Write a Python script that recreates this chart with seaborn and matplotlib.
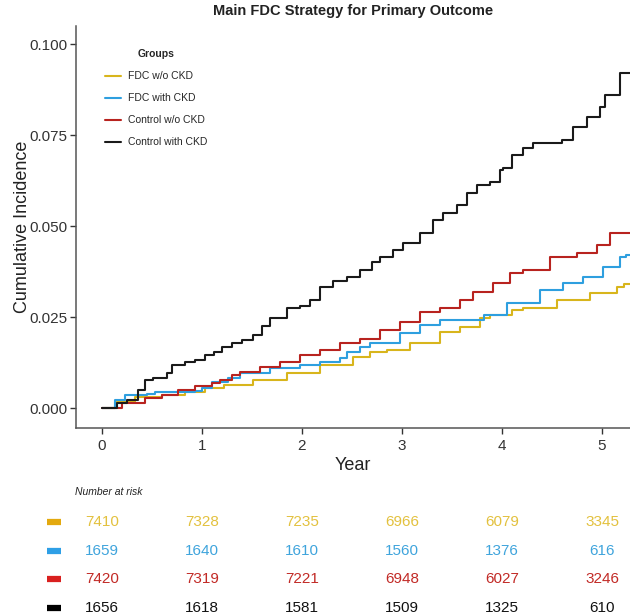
import numpy as np
import pandas as pd
import matplotlib
matplotlib.use('Agg')
import matplotlib.pyplot as plt
import seaborn as sns

# cumulative incidence step curves
groups = ['FDC w/o CKD', 'FDC with CKD', 'Control w/o CKD', 'Control with CKD']
colors = ['#D8B51C', '#2E9FDF', '#B8231F', '#1A1A1A']
table_colors = ['#E3C13E', '#3FA4DC', '#C22A26', '#111111']
marker_colors = ['#E3A90F', '#2E9FE6', '#D9201F', '#000000']

fdc_wo_t = [0, 0.13, 0.33, 0.60, 0.83, 1.03, 1.22, 1.51, 1.85, 2.18, 2.51, 2.68, 2.85, 3.08,
            3.38, 3.58, 3.78, 3.88, 4.10, 4.21, 4.55, 4.88, 5.15, 5.22, 5.28]
fdc_wo_y = [0, 0.0016, 0.0030, 0.0036, 0.0044, 0.0055, 0.0063, 0.0077, 0.0096, 0.0118, 0.0140,
            0.0154, 0.0160, 0.0180, 0.0209, 0.0223, 0.0247, 0.0255, 0.0270, 0.0275, 0.0297,
            0.0316, 0.0332, 0.0340, 0.0340]

fdc_ckd_t = [0, 0.13, 0.23, 0.45, 0.53, 0.93, 1.00, 1.10, 1.26, 1.38, 1.68, 1.98, 2.18, 2.38,
             2.45, 2.58, 2.68, 2.98, 3.18, 3.38, 3.82, 4.05, 4.38, 4.61, 4.81, 5.01, 5.18,
             5.24, 5.28]
fdc_ckd_y = [0, 0.0022, 0.0036, 0.0040, 0.0044, 0.0048, 0.0055, 0.0071, 0.0082, 0.0096, 0.0110,
             0.0118, 0.0126, 0.0137, 0.0154, 0.0168, 0.0180, 0.0206, 0.0228, 0.0242, 0.0255,
             0.0288, 0.0324, 0.0343, 0.0360, 0.0387, 0.0415, 0.0420, 0.0420]

ctl_wo_t = [0, 0.20, 0.43, 0.60, 0.76, 0.93, 1.10, 1.18, 1.30, 1.38, 1.58, 1.78, 1.98, 2.18,
            2.38, 2.58, 2.78, 2.98, 3.18, 3.38, 3.58, 3.71, 3.91, 4.08, 4.21, 4.48, 4.75,
            4.95, 5.08, 5.28]
ctl_wo_y = [0, 0.0014, 0.0027, 0.0036, 0.0050, 0.0060, 0.0069, 0.0077, 0.0090, 0.0099, 0.0113,
            0.0126, 0.0146, 0.0160, 0.0178, 0.0190, 0.0214, 0.0236, 0.0264, 0.0275, 0.0297,
            0.0319, 0.0343, 0.0370, 0.0379, 0.0415, 0.0426, 0.0448, 0.0480, 0.0480]

ctl_ckd_t = [0, 0.15, 0.25, 0.36, 0.43, 0.51, 0.65, 0.70, 0.83, 0.93, 1.03, 1.12, 1.20, 1.30,
             1.40, 1.51, 1.60, 1.68, 1.85, 1.98, 2.08, 2.18, 2.31, 2.45, 2.58, 2.70, 2.78,
             2.91, 3.01, 3.18, 3.31, 3.41, 3.55, 3.65, 3.75, 3.88, 3.98, 4.01, 4.10, 4.21,
             4.31, 4.60, 4.71, 4.85, 4.98, 5.03, 5.18, 5.28]
ctl_ckd_y = [0, 0.0014, 0.0022, 0.0050, 0.0077, 0.0082, 0.0096, 0.0118, 0.0126, 0.0132, 0.0146,
             0.0155, 0.0168, 0.0180, 0.0188, 0.0200, 0.0225, 0.0247, 0.0275, 0.0280, 0.0297,
             0.0333, 0.0350, 0.0360, 0.0380, 0.0400, 0.0415, 0.0434, 0.0453, 0.0480, 0.0516,
             0.0536, 0.0558, 0.0590, 0.0613, 0.0620, 0.0654, 0.0660, 0.0695, 0.0714, 0.0728,
             0.0736, 0.0772, 0.0800, 0.0827, 0.0860, 0.0920, 0.0920]

# number at risk table
risk_years = [0, 1, 2, 3, 4, 5]
risk_fdc_wo = [7410, 7328, 7235, 6966, 6079, 3345]
risk_fdc_ckd = [1659, 1640, 1610, 1560, 1376, 616]
risk_ctl_wo = [7420, 7319, 7221, 6948, 6027, 3246]
risk_ctl_ckd = [1656, 1618, 1581, 1509, 1325, 610]

curves = [(fdc_wo_t, fdc_wo_y), (fdc_ckd_t, fdc_ckd_y), (ctl_wo_t, ctl_wo_y), (ctl_ckd_t, ctl_ckd_y)]
frames = []
for g, (t, y) in zip(groups, curves):
    frames.append(pd.DataFrame({'Year': t, 'CI': y, 'Groups': g}))
df = pd.concat(frames, ignore_index=True)
risk = [risk_fdc_wo, risk_fdc_ckd, risk_ctl_wo, risk_ctl_ckd]

sns.set_theme(style='ticks')
plt.rcParams['font.family'] = ['Liberation Sans', 'DejaVu Sans']

fig = plt.figure(figsize=(6.3, 6.16), dpi=100)
ax = fig.add_axes([0.1206, 0.305, 0.8794, 0.653])

sns.lineplot(data=df, x='Year', y='CI', hue='Groups', hue_order=groups,
             palette=dict(zip(groups, colors)), drawstyle='steps-post',
             estimator=None, sort=False, linewidth=1.5, ax=ax)

ax.set_xlim(-0.26, 5.28)
ax.set_ylim(-0.0055, 0.105)
ax.set_xticks(risk_years)
ax.set_yticks([0, 0.025, 0.05, 0.075, 0.1])
ax.set_yticklabels(['0.000', '0.025', '0.050', '0.075', '0.100'])
ax.tick_params(labelsize=11, colors='#333333', length=4, width=1)
ax.tick_params(axis='y', pad=2)
ax.set_xlabel('Year', fontsize=13, color='#222222', labelpad=3)
ax.set_ylabel('Cumulative Incidence', fontsize=13, color='#222222', labelpad=-1)
ax.set_title('Main FDC Strategy for Primary Outcome', fontsize=10.5, fontweight='bold',
             color='#222222', pad=8)
sns.despine(ax=ax)
for s in ['left', 'bottom']:
    ax.spines[s].set_color('#555555')
    ax.spines[s].set_linewidth(1.1)

leg = ax.legend(title='Groups', loc='upper left', bbox_to_anchor=(0.035, 0.965),
                frameon=False, fontsize=7.5, title_fontsize=7.5, handlelength=1.6,
                labelspacing=1.15, handletextpad=0.6)
leg.get_title().set_fontweight('bold')
leg._legend_box.align = 'center'
for line in leg.get_lines():
    line.set_linewidth(1.5)

# risk table below
tab = fig.add_axes([0.1206, 0.0, 0.8794, 0.188])
tab.set_xlim(ax.get_xlim())
tab.set_ylim(3.28, -0.77)
tab.axis('off')
tab.text(-0.27, -1.05, 'Number at risk', fontsize=7.5, style='italic', color='#222222',
         ha='left', va='center')
for i, (vals, tc, mc) in enumerate(zip(risk, table_colors, marker_colors)):
    tab.plot([-0.55, -0.41], [i, i], color=mc, linewidth=4.5, clip_on=False,
             solid_capstyle='butt')
    for yr, v in zip(risk_years, vals):
        tab.text(yr, i, str(v), ha='center', va='center', fontsize=11, color=tc)

fig.savefig('out.png', dpi=100)
